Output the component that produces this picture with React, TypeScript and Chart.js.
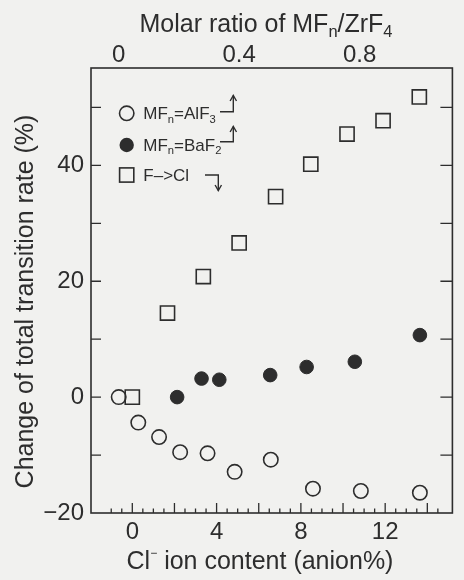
import React, { useEffect, useRef } from "react";
import { Chart, registerables } from "chart.js";

Chart.register(...registerables);

// ---- Data ----
// MFn = AlF3 (open circles), plotted against the top axis (molar ratio)
const alf3Ratio = [0, 0.065, 0.134, 0.204, 0.295, 0.385, 0.505, 0.645, 0.804, 1.0];
const alf3Change = [0, -4.4, -6.9, -9.5, -9.7, -12.9, -10.8, -15.8, -16.2, -16.5];
// MFn = BaF2 (filled circles), plotted against the top axis (molar ratio)
const baf2Ratio = [0.194, 0.275, 0.334, 0.503, 0.624, 0.784, 1.0];
const baf2Change = [0, 3.2, 3.0, 3.8, 5.2, 6.1, 10.7];
// F -> Cl (open squares), plotted against the bottom axis (Cl- content)
const clContent = [0, 1.67, 3.37, 5.07, 6.8, 8.47, 10.19, 11.9, 13.62];
const clChange = [0, 14.5, 20.8, 26.6, 34.6, 40.2, 45.4, 47.7, 51.8];

const seriesLabels = ["MFₙ=AlF₃", "MFₙ=BaF₂", "F–>Cl"];

// ---- Axes ----
const bottomRange = [-1.96, 15.19];
const topRange = [-0.092, 1.108];
const yRange = [-20, 56.8];
const bottomTickLabels = [0, 4, 8, 12];
const topTickLabels = [0, 0.4, 0.8];
const leftTickLabels = [-20, 0, 20, 40];
const bottomMinorStep = 0.5;
const bottomMajorStep = 2;
const topMinorStep = 0.1;
const topMajorStep = 0.2;
const yTickStep = 10;

const INK = "#2d2d2d";
const BG = "#f1f1ef";
const FONT = "'Liberation Sans', Arial, Helvetica, sans-serif";

type Seg = [string, number]; // 0 normal, 1 subscript, 2 superscript

const topTitle: Seg[] = [["Molar ratio of MF", 0], ["n", 1], ["/ZrF", 0], ["4", 1]];
const bottomTitle: Seg[] = [["Cl", 0], ["−", 2], [" ion content (anion%)", 0]];
const leftTitle: Seg[] = [["Change of total transition rate (%)", 0]];
const legendRich: Seg[][] = [
  [["MF", 0], ["n", 1], ["=AlF", 0], ["3", 1]],
  [["MF", 0], ["n", 1], ["=BaF", 0], ["2", 1]],
  [["F–>Cl", 0]],
];

function near(v: number, list: number[]) {
  return list.find((t) => Math.abs(v - t) < 1e-6);
}
function isMultiple(v: number, step: number) {
  const r = v / step;
  return Math.abs(r - Math.round(r)) < 1e-6;
}

function segSize(size: number, k: number) {
  return k === 0 ? size : k === 1 ? size * 0.66 : size * 0.48;
}

function drawRich(ctx: CanvasRenderingContext2D, segs: Seg[], x: number, y: number, size: number, align: "center" | "left") {
  ctx.textAlign = "left";
  ctx.textBaseline = "alphabetic";
  const widths = segs.map(([t, k]) => {
    ctx.font = `${segSize(size, k)}px ${FONT}`;
    return ctx.measureText(t).width;
  });
  const total = widths.reduce((a, b) => a + b, 0);
  let cx = align === "center" ? x - total / 2 : x;
  segs.forEach(([t, k], i) => {
    ctx.font = `${segSize(size, k)}px ${FONT}`;
    const dy = k === 1 ? size * 0.2 : k === 2 ? -size * 0.5 : 0;
    ctx.fillText(t, cx, y + dy);
    cx += widths[i];
  });
}

function drawMarker(ctx: CanvasRenderingContext2D, kind: string, x: number, y: number) {
  ctx.beginPath();
  if (kind === "open") {
    ctx.arc(x, y, 7.2, 0, Math.PI * 2);
    ctx.lineWidth = 1.6;
    ctx.stroke();
  } else if (kind === "filled") {
    ctx.arc(x, y, 7.2, 0, Math.PI * 2);
    ctx.fill();
  } else {
    ctx.lineWidth = 1.6;
    ctx.strokeRect(x - 7.1, y - 7.1, 14.2, 14.2);
  }
}

function bentArrow(ctx: CanvasRenderingContext2D, x0: number, y0: number, x1: number, yEnd: number) {
  ctx.lineWidth = 1.4;
  ctx.beginPath();
  ctx.moveTo(x0, y0);
  ctx.lineTo(x1, y0);
  ctx.lineTo(x1, yEnd);
  ctx.stroke();
  const dir = yEnd < y0 ? 1 : -1;
  ctx.beginPath();
  ctx.moveTo(x1 - 3.2, yEnd + dir * 5.5);
  ctx.lineTo(x1, yEnd);
  ctx.lineTo(x1 + 3.2, yEnd + dir * 5.5);
  ctx.stroke();
}

const bgPlugin = {
  id: "bg",
  beforeDraw(chart: any) {
    const { ctx, width, height } = chart;
    ctx.save();
    ctx.fillStyle = BG;
    ctx.fillRect(0, 0, width, height);
    ctx.restore();
  },
};

const framePlugin = {
  id: "frameTicks",
  afterDatasetsDraw(chart: any) {
    const { ctx, chartArea: a, scales } = chart;
    ctx.save();
    ctx.strokeStyle = INK;
    ctx.lineWidth = 1.3;
    ctx.beginPath();
    for (const t of scales.y.ticks) {
      if (!isMultiple(t.value, yTickStep)) continue;
      const py = scales.y.getPixelForValue(t.value);
      if (py < a.top + 1 || py > a.bottom - 1) continue;
      ctx.moveTo(a.left, py);
      ctx.lineTo(a.left + 10, py);
      ctx.moveTo(a.right, py);
      ctx.lineTo(a.right - 12, py);
    }
    for (const t of scales.x.ticks) {
      if (!isMultiple(t.value, bottomMinorStep)) continue;
      const px = scales.x.getPixelForValue(t.value);
      if (px < a.left + 1 || px > a.right - 1) continue;
      const len = isMultiple(t.value, bottomMajorStep) ? 10 : 4.5;
      ctx.moveTo(px, a.bottom);
      ctx.lineTo(px, a.bottom - len);
    }
    for (const t of scales.x2.ticks) {
      if (!isMultiple(t.value, topMinorStep)) continue;
      const px = scales.x2.getPixelForValue(t.value);
      if (px < a.left + 1 || px > a.right - 1) continue;
      const len = isMultiple(t.value, topMajorStep) ? 12 : 6.5;
      ctx.moveTo(px, a.top);
      ctx.lineTo(px, a.top + len);
    }
    ctx.stroke();
    ctx.lineWidth = 1.6;
    ctx.strokeRect(a.left, a.top, a.right - a.left, a.bottom - a.top);
    ctx.restore();
  },
};

const annotPlugin = {
  id: "annot",
  afterDraw(chart: any) {
    const { ctx, chartArea: a, scales } = chart;
    ctx.save();
    ctx.fillStyle = INK;
    ctx.strokeStyle = INK;
    // top-axis tick labels, placed by the top scale
    ctx.font = `24px ${FONT}`;
    ctx.textAlign = "center";
    ctx.textBaseline = "alphabetic";
    for (const t of topTickLabels) {
      ctx.fillText(String(t), scales.x2.getPixelForValue(t), a.top - 6.5);
    }
    // axis titles
    drawRich(ctx, topTitle, a.left + 175, a.top - 36.3, 25, "center");
    drawRich(ctx, bottomTitle, a.left + 169, a.bottom + 56, 25, "center");
    ctx.save();
    ctx.translate(a.left - 58.3, (a.top + a.bottom) / 2 + 11);
    ctx.rotate(-Math.PI / 2);
    drawRich(ctx, leftTitle, 0, 0, 25, "center");
    ctx.restore();
    // legend
    const kinds = ["open", "filled", "square"];
    const rowY = [45.3, 77, 107];
    kinds.forEach((k, i) => {
      drawMarker(ctx, k, a.left + 35.7, a.top + rowY[i]);
      drawRich(ctx, legendRich[i], a.left + 52.3, a.top + rowY[i] + 6, 17, "left");
    });
    bentArrow(ctx, a.left + 129, a.top + 43.7, a.left + 142.3, a.top + 27.5);
    bentArrow(ctx, a.left + 129, a.top + 73.7, a.left + 142.3, a.top + 58.5);
    bentArrow(ctx, a.left + 114, a.top + 107, a.left + 127.3, a.top + 122.5);
    ctx.restore();
  },
};

const tickFont = { family: FONT, size: 24 };

export default function App() {
  const ref = useRef<HTMLCanvasElement>(null);

  useEffect(() => {
    const canvas = ref.current;
    if (!canvas) return;
    const chart = new Chart(canvas, {
      type: "scatter",
      data: {
        datasets: [
          {
            label: seriesLabels[0],
            data: alf3Ratio.map((x, i) => ({ x, y: alf3Change[i] })),
            xAxisID: "x2",
            yAxisID: "y",
            pointStyle: "circle",
            pointRadius: 7.2,
            pointBorderWidth: 1.6,
            pointBorderColor: INK,
            pointBackgroundColor: "rgba(0,0,0,0)",
            borderColor: INK,
            backgroundColor: "rgba(0,0,0,0)",
          },
          {
            label: seriesLabels[1],
            data: baf2Ratio.map((x, i) => ({ x, y: baf2Change[i] })),
            xAxisID: "x2",
            yAxisID: "y",
            pointStyle: "circle",
            pointRadius: 6.8,
            pointBorderWidth: 1,
            pointBorderColor: INK,
            pointBackgroundColor: INK,
            borderColor: INK,
            backgroundColor: INK,
          },
          {
            label: seriesLabels[2],
            data: clContent.map((x, i) => ({ x, y: clChange[i] })),
            xAxisID: "x",
            yAxisID: "y",
            pointStyle: "rect",
            pointRadius: 10,
            pointBorderWidth: 1.6,
            pointBorderColor: INK,
            pointBackgroundColor: "rgba(0,0,0,0)",
            borderColor: INK,
            backgroundColor: "rgba(0,0,0,0)",
          },
        ],
      },
      options: {
        responsive: false,
        animation: false,
        devicePixelRatio: 1,
        events: [],
        layout: { padding: { left: 0, right: 3, top: 0, bottom: 0 } },
        plugins: {
          legend: { display: false },
          tooltip: { enabled: false },
          title: { display: false },
        },
        scales: {
          x: {
            type: "linear",
            position: "bottom",
            min: bottomRange[0],
            max: bottomRange[1],
            grid: { display: false, drawTicks: false },
            border: { display: false },
            ticks: {
              stepSize: bottomMinorStep,
              autoSkip: false,
              maxRotation: 0,
              minRotation: 0,
              padding: 5,
              color: INK,
              font: tickFont,
              callback: (v: any) => {
                const t = near(Number(v), bottomTickLabels);
                return t === undefined ? "" : String(t);
              },
            },
            afterFit: (s: any) => {
              s.height = 67;
            },
          },
          x2: {
            type: "linear",
            position: "top",
            min: topRange[0],
            max: topRange[1],
            grid: { display: false, drawTicks: false },
            border: { display: false },
            ticks: {
              stepSize: topMinorStep,
              autoSkip: false,
              maxRotation: 0,
              minRotation: 0,
              display: false,
            },
            afterFit: (s: any) => {
              s.height = 68;
            },
          },
          y: {
            type: "linear",
            position: "left",
            min: yRange[0],
            max: yRange[1],
            grid: { display: false, drawTicks: false },
            border: { display: false },
            ticks: {
              stepSize: yTickStep,
              autoSkip: false,
              padding: 7,
              color: INK,
              font: tickFont,
              callback: (v: any) => {
                const t = near(Number(v), leftTickLabels);
                if (t === undefined) return "";
                return t < 0 ? "−" + Math.abs(t) : String(t);
              },
            },
            afterFit: (s: any) => {
              s.width = 91;
            },
          },
        },
      },
      plugins: [bgPlugin, framePlugin, annotPlugin],
    } as any);
    return () => chart.destroy();
  }, []);

  return (
    <div style={{ position: "fixed", left: 0, top: 0, width: 464, height: 580, background: BG }}>
      <canvas ref={ref} width={464} height={580} style={{ display: "block", width: 464, height: 580 }} />
    </div>
  );
}
